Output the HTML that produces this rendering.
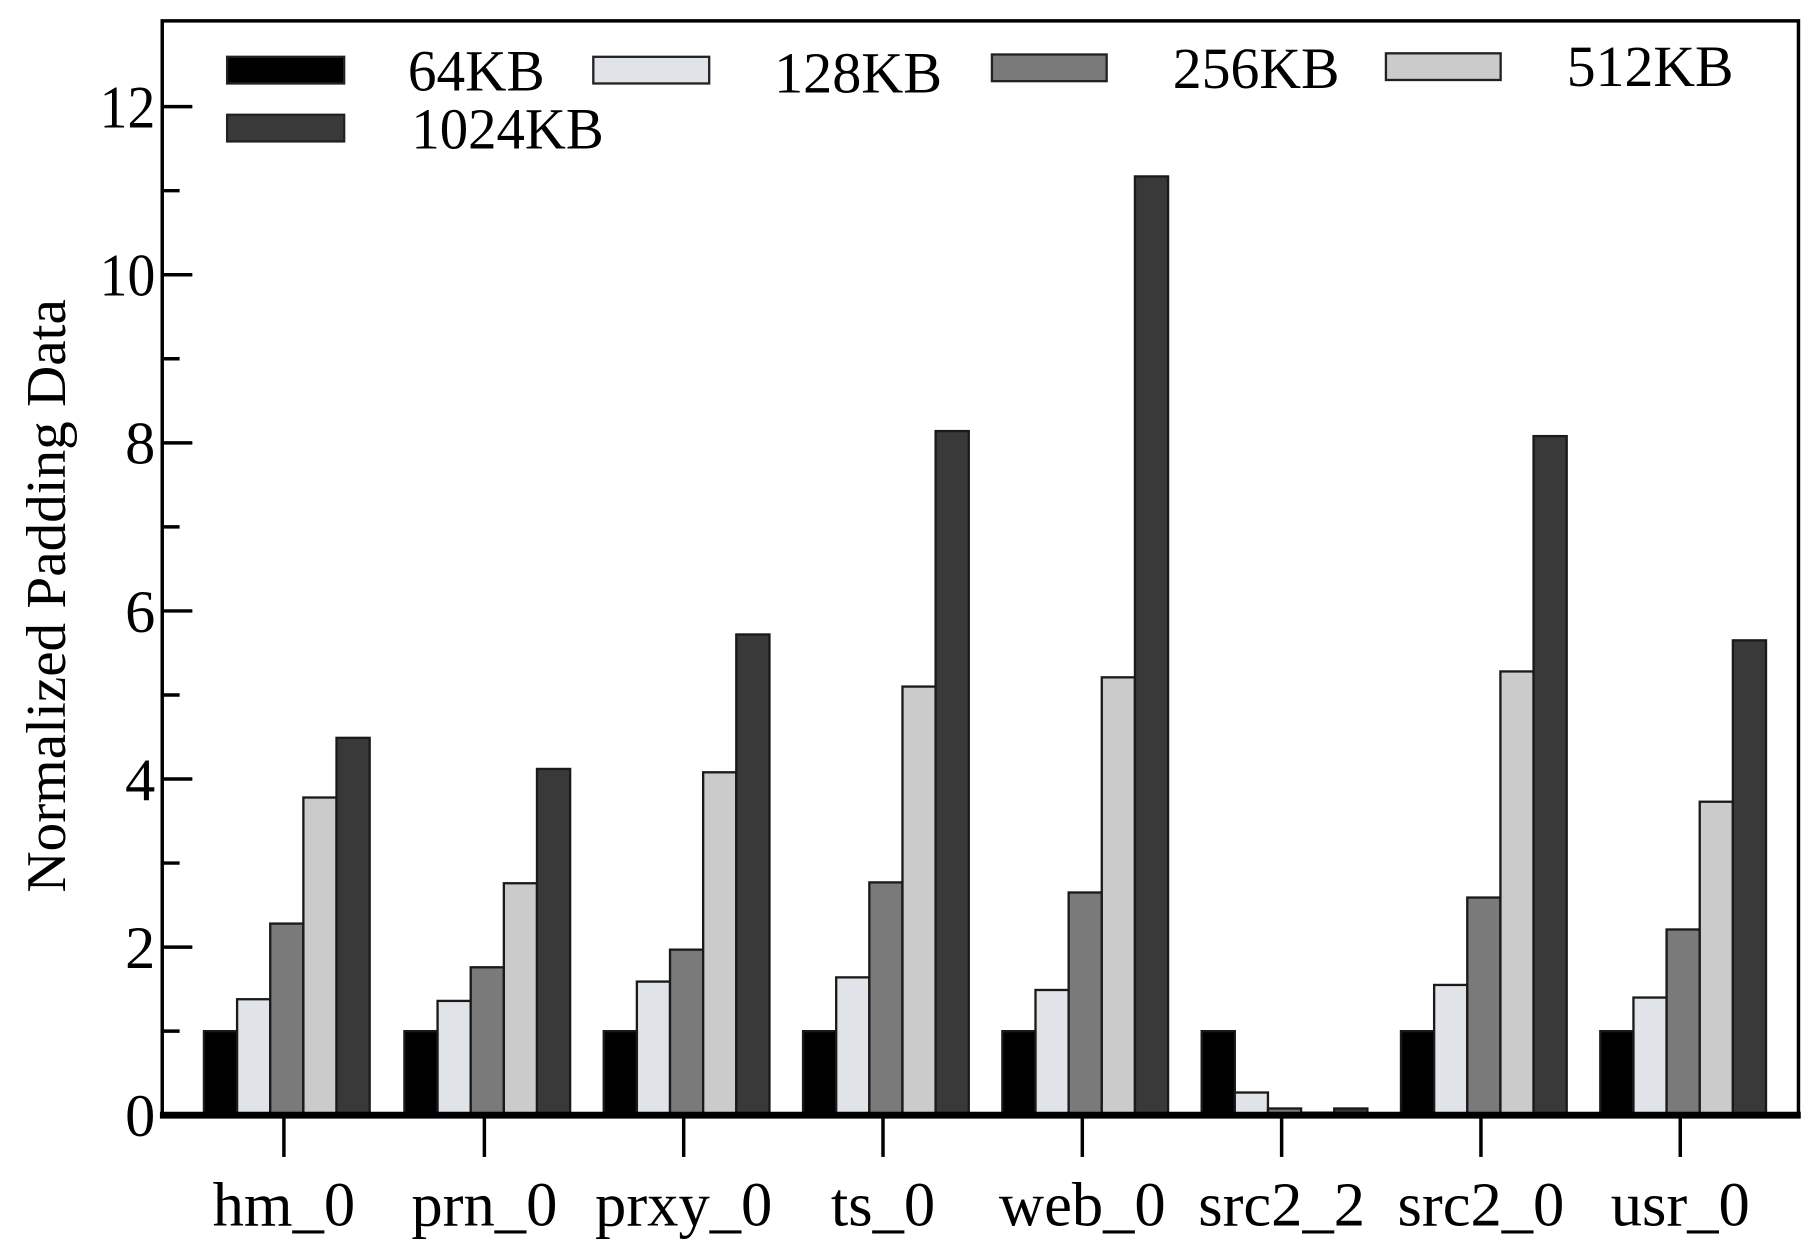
<!DOCTYPE html>
<html><head><meta charset="utf-8"><style>html,body{margin:0;padding:0;background:#fff}svg{display:block}</style></head>
<body>
<svg width="1817" height="1252" viewBox="0 0 1568 1080" preserveAspectRatio="none" xmlns="http://www.w3.org/2000/svg" font-family="Liberation Serif, serif">
<rect width="1568" height="1080" fill="#fff"/>
<g stroke="#1a1a1a" stroke-width="2">
<rect x="176" y="889.5" width="28.6" height="72.5" fill="#000"/>
<rect x="204.6" y="861.95" width="28.6" height="100.05" fill="#e0e3e8"/>
<rect x="233.2" y="796.7" width="28.6" height="165.3" fill="#7a7a7a"/>
<rect x="261.8" y="687.95" width="28.6" height="274.05" fill="#cbcbcb"/>
<rect x="290.4" y="636.48" width="28.6" height="325.53" fill="#393939"/>
<rect x="349" y="889.5" width="28.6" height="72.5" fill="#000"/>
<rect x="377.6" y="863.4" width="28.6" height="98.6" fill="#e0e3e8"/>
<rect x="406.2" y="834.4" width="28.6" height="127.6" fill="#7a7a7a"/>
<rect x="434.8" y="761.9" width="28.6" height="200.1" fill="#cbcbcb"/>
<rect x="463.4" y="663.3" width="28.6" height="298.7" fill="#393939"/>
<rect x="521" y="889.5" width="28.6" height="72.5" fill="#000"/>
<rect x="549.6" y="846.73" width="28.6" height="115.28" fill="#e0e3e8"/>
<rect x="578.2" y="819.18" width="28.6" height="142.83" fill="#7a7a7a"/>
<rect x="606.8" y="666.2" width="28.6" height="295.8" fill="#cbcbcb"/>
<rect x="635.4" y="547.3" width="28.6" height="414.7" fill="#393939"/>
<rect x="693" y="889.5" width="28.6" height="72.5" fill="#000"/>
<rect x="721.6" y="843.1" width="28.6" height="118.9" fill="#e0e3e8"/>
<rect x="750.2" y="761.18" width="28.6" height="200.83" fill="#7a7a7a"/>
<rect x="778.8" y="592.25" width="28.6" height="369.75" fill="#cbcbcb"/>
<rect x="807.4" y="371.85" width="28.6" height="590.15" fill="#393939"/>
<rect x="865" y="889.5" width="28.6" height="72.5" fill="#000"/>
<rect x="893.6" y="853.98" width="28.6" height="108.03" fill="#e0e3e8"/>
<rect x="922.2" y="769.88" width="28.6" height="192.13" fill="#7a7a7a"/>
<rect x="950.8" y="584.28" width="28.6" height="377.73" fill="#cbcbcb"/>
<rect x="979.4" y="152.18" width="28.6" height="809.83" fill="#393939"/>
<rect x="1037" y="889.5" width="28.6" height="72.5" fill="#000"/>
<rect x="1065.6" y="942.43" width="28.6" height="19.58" fill="#e0e3e8"/>
<rect x="1094.2" y="956.2" width="28.6" height="5.8" fill="#7a7a7a"/>
<rect x="1122.8" y="959.8" width="28.6" height="2.2" fill="#cbcbcb"/>
<rect x="1151.4" y="956.2" width="28.6" height="5.8" fill="#393939"/>
<rect x="1209" y="889.5" width="28.6" height="72.5" fill="#000"/>
<rect x="1237.6" y="849.63" width="28.6" height="112.38" fill="#e0e3e8"/>
<rect x="1266.2" y="774.23" width="28.6" height="187.78" fill="#7a7a7a"/>
<rect x="1294.8" y="579.2" width="28.6" height="382.8" fill="#cbcbcb"/>
<rect x="1323.4" y="376.2" width="28.6" height="585.8" fill="#393939"/>
<rect x="1381" y="889.5" width="28.6" height="72.5" fill="#000"/>
<rect x="1409.6" y="860.5" width="28.6" height="101.5" fill="#e0e3e8"/>
<rect x="1438.2" y="801.78" width="28.6" height="160.23" fill="#7a7a7a"/>
<rect x="1466.8" y="691.58" width="28.6" height="270.43" fill="#cbcbcb"/>
<rect x="1495.4" y="552.38" width="28.6" height="409.63" fill="#393939"/>
</g>
<rect x="140" y="18" width="1412" height="944" fill="none" stroke="#000" stroke-width="3"/>
<line x1="138" y1="962" x2="1554" y2="962" stroke="#000" stroke-width="6"/>
<g stroke="#000" stroke-width="3">
<line x1="140" y1="962" x2="166" y2="962"/>
<line x1="140" y1="889.5" x2="155" y2="889.5"/>
<line x1="140" y1="817" x2="166" y2="817"/>
<line x1="140" y1="744.5" x2="155" y2="744.5"/>
<line x1="140" y1="672" x2="166" y2="672"/>
<line x1="140" y1="599.5" x2="155" y2="599.5"/>
<line x1="140" y1="527" x2="166" y2="527"/>
<line x1="140" y1="454.5" x2="155" y2="454.5"/>
<line x1="140" y1="382" x2="166" y2="382"/>
<line x1="140" y1="309.5" x2="155" y2="309.5"/>
<line x1="140" y1="237" x2="166" y2="237"/>
<line x1="140" y1="164.5" x2="155" y2="164.5"/>
<line x1="140" y1="92" x2="166" y2="92"/>
<line x1="245" y1="962" x2="245" y2="998"/>
<line x1="418" y1="962" x2="418" y2="998"/>
<line x1="590" y1="962" x2="590" y2="998"/>
<line x1="762" y1="962" x2="762" y2="998"/>
<line x1="934" y1="962" x2="934" y2="998"/>
<line x1="1106" y1="962" x2="1106" y2="998"/>
<line x1="1278" y1="962" x2="1278" y2="998"/>
<line x1="1450" y1="962" x2="1450" y2="998"/>
</g>
<g font-size="52" text-anchor="end" fill="#000">
<text x="134" y="980">0</text>
<text x="134" y="835">2</text>
<text x="134" y="690">4</text>
<text x="134" y="545">6</text>
<text x="134" y="400">8</text>
<text x="134" y="255" textLength="48" lengthAdjust="spacingAndGlyphs">10</text>
<text x="134" y="110" textLength="48" lengthAdjust="spacingAndGlyphs">12</text>
</g>
<g font-size="54" text-anchor="middle" fill="#000">
<text x="245" y="1057">hm_0</text>
<text x="418" y="1057">prn_0</text>
<text x="590" y="1057">prxy_0</text>
<text x="762" y="1057">ts_0</text>
<text x="934" y="1057">web_0</text>
<text x="1106" y="1057">src2_2</text>
<text x="1278" y="1057">src2_0</text>
<text x="1450" y="1057">usr_0</text>
</g>
<text transform="translate(56,514) rotate(-90)" font-size="48" text-anchor="middle" textLength="512" lengthAdjust="spacingAndGlyphs">Normalized Padding Data</text>
<g stroke="#222" stroke-width="2">
<rect x="196" y="49" width="101" height="23" fill="#000"/>
<rect x="512" y="49" width="100" height="23" fill="#e0e3e8"/>
<rect x="856" y="47" width="99" height="23" fill="#7a7a7a"/>
<rect x="1196" y="46" width="99" height="23" fill="#cbcbcb"/>
<rect x="196" y="99" width="101" height="23" fill="#393939"/>
</g>
<g font-size="50" fill="#000">
<text x="352" y="78" textLength="118" lengthAdjust="spacingAndGlyphs">64KB</text>
<text x="668" y="80" textLength="145" lengthAdjust="spacingAndGlyphs">128KB</text>
<text x="1012" y="76" textLength="144" lengthAdjust="spacingAndGlyphs">256KB</text>
<text x="1352" y="74" textLength="144" lengthAdjust="spacingAndGlyphs">512KB</text>
<text x="355" y="128" textLength="166" lengthAdjust="spacingAndGlyphs">1024KB</text>
</g>
</svg>
</body></html>
